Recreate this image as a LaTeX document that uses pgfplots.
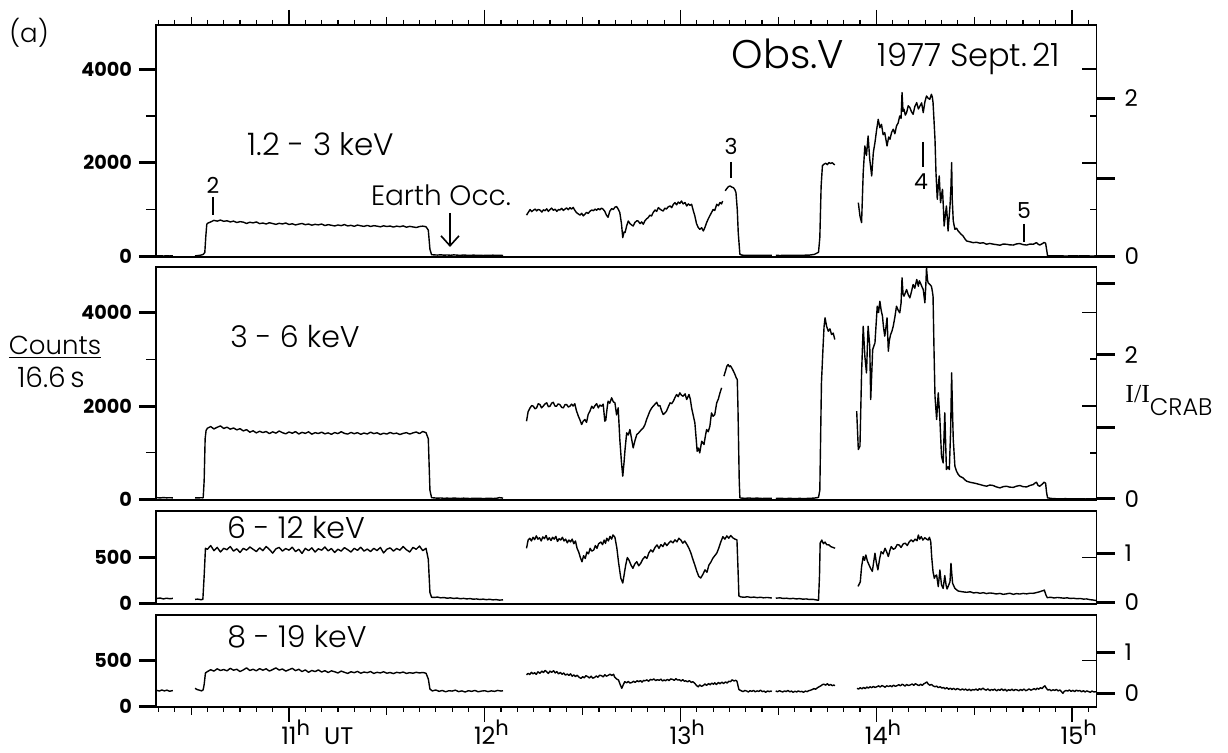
\documentclass[border=0pt]{standalone}
\usepackage{pgfplots}
\pgfplotsset{compat=1.18}
\usepackage{pgfplotstable}
\usepackage{fontspec}
\usetikzlibrary{arrows.meta}
\setmainfont{Poppins}
\IfFontExistsTF{Poppins Light}{\newfontfamily\lightfont{Poppins Light}}{\newfontfamily\lightfont{Poppins}}
\newfontfamily\serifI{Liberation Serif}
\newcommand{\hr}{\raisebox{4.5pt}{\fontsize{10.5}{11}\selectfont h}}

% time in minutes after 10:00 UT, counts per 16.6 s

\pgfplotstableread{
t n
19.5 8
20.5 12
21.5 6
22.5 10
23.5 7
24.4 9
nan nan
31.2 10
32.0 14
33.0 25
33.7 40
34.2 80
34.5 420
34.8 680
35 705
36 735
37 768
38 752
39 775
40 748
41 760
42 735
43 752
44 722
45 741
46 730
47 702
48 728
49 715
50 735
51 698
52 712
53 690
54 718
55 700
56 683
57 705
58 692
59 712
60 680
61 695
62 670
63 688
64 702
65 676
66 690
67 665
68 684
69 672
70 690
71 658
72 676
73 664
74 648
75 670
76 655
77 678
78 650
79 662
80 641
81 668
82 652
83 640
84 660
85 638
86 655
87 645
88 630
89 652
90 636
91 648
92 625
93 645
94 632
95 650
96 622
97 640
98 628
99 615
100 636
101 645
102 632
102.7 560
103.2 150
103.7 35
104.5 30
105.5 26
106.5 32
107.5 24
108.5 28
109.5 22
110.5 30
111.5 25
112.5 20
113.5 27
114.5 22
115.5 18
116.5 25
117.5 20
118.5 23
119.5 17
120.5 22
121.5 19
122.5 24
123.5 18
124.5 21
125.6 17
nan nan
132.8 880
133.3 934
133.9 1000
134.4 955
134.9 985
135.5 1010
135.9 970
136.4 1002
136.9 990
137.5 945
138.0 995
138.5 975
139.0 1015
139.5 960
140.0 998
140.5 1030
141.0 985
141.6 1005
142.1 960
142.6 1000
143.0 990
143.6 1025
144.1 980
144.6 1010
145.1 1035
145.6 995
146.1 1040
146.6 1010
147.1 1045
147.6 985
148.1 935
148.7 905
149.2 880
149.7 920
150.2 865
150.7 900
151.2 940
151.7 915
152.2 960
152.8 990
153.3 975
153.8 1010
154.3 985
154.8 1020
155.3 995
155.8 1030
156.3 1005
156.8 960
157.3 880
157.8 834
158.3 960
158.9 1020
159.4 1000
159.9 1050
160.4 1063
160.9 1010
161.4 934
161.9 700
162.3 400
162.7 520
163.0 507
163.5 650
164.0 755
164.5 700
165.0 670
165.5 648
166.0 720
166.6 760
167.0 755
167.6 700
168.1 735
168.6 684
169.1 760
169.6 800
170.1 827
170.6 880
171.1 860
171.6 934
172.2 990
172.7 960
173.2 1041
173.7 1010
174.2 985
174.7 969
175.2 1030
175.7 1010
176.2 1055
176.8 1076
177.3 1040
177.8 1110
178.3 1148
178.8 1100
179.3 1160
179.8 1130
180.3 1183
180.8 1120
181.4 1150
181.9 1076
182.4 1120
182.9 1090
183.4 1112
183.9 980
184.4 862
184.9 700
185.4 620
185.9 577
186.5 610
187.0 541
187.5 620
188.0 720
188.5 800
189.0 870
189.5 934
190.0 1000
190.5 980
191.1 1112
191.6 1080
192.1 1150
192.6 1120
192.9 1183
nan nan
193.7 1400
194.2 1450
194.7 1490
195.2 1504
195.7 1480
196.2 1469
196.7 1420
197.0 1362
197.4 1000
197.7 500
198.2 43
198.8 25
199.8 20
201.0 23
202.0 18
203.5 22
205.0 19
206.5 21
208.0 18
nan nan
209.2 20
210.5 17
212.0 21
213.5 18
215.0 22
216.5 19
218.0 23
219.5 25
221.0 40
222.3 85
222.7 400
223.1 1500
223.5 1940
224.0 1970
224.5 1990
225.0 1960
225.5 2005
226.0 1985
226.5 2000
227.0 1970
227.3 1955
nan nan
234.5 1148
235.0 862
235.5 720
236.0 1790
236.5 2360
237.0 2157
237.5 2573
238.0 2075
238.6 1718
239.1 2219
239.6 2432
240.1 2700
240.6 2930
241.1 2750
241.6 2823
242.1 2600
242.6 2645
243.0 2480
243.3 2360
243.8 2550
244.2 2502
244.7 2650
245.2 2717
245.7 2620
246.2 2788
246.7 2850
247.2 3001
247.6 2950
247.9 3501
248.2 3100
248.5 3144
248.9 3020
249.3 3073
249.8 3220
250.3 3180
250.8 3090
251.3 3037
251.8 3200
252.4 3287
252.9 3150
253.4 3216
253.9 3280
254.4 3073
254.9 3300
255.4 3429
255.9 3380
256.4 3358
256.9 3465
257.2 3400
257.4 3287
257.7 2900
258.0 2502
258.3 1790
258.7 1219
259.0 1500
259.3 1718
259.7 1148
260.0 1300
260.3 1433
260.6 1000
260.8 648
261.2 900
261.5 1076
261.8 800
262.0 541
262.3 800
262.6 1076
262.9 1500
263.1 2004
263.3 1200
263.6 755
264.1 577
264.6 600
265.1 541
265.9 480
266.6 434
267.2 370
267.7 327
268.7 310
269.7 291
270.7 300
271.8 280
272.8 290
273.8 257
274.8 275
275.8 260
276.8 250
277.9 236
278.9 262
279.9 257
280.9 245
282.0 240
283.0 265
284.0 272
285.0 250
286.1 240
287.1 262
288.1 257
288.6 275
289.1 291
289.6 260
290.1 240
290.9 270
291.4 295
291.9 280
292.2 150
292.5 12
294 8
296 10
298 6
300 9
302 7
304 10
306 6
307.4 8
}\pone

\pgfplotstableread{
t n
19.5 40
20.5 34
21.5 42
22.5 36
23.5 39
24.4 35
nan nan
31.2 36
32.0 34
33.0 38
33.7 36
34.0 400
34.3 1300
34.6 1480
35 1525
36 1560
37 1510
38 1545
39 1575
40 1520
41 1548
42 1505
43 1530
44 1490
45 1515
46 1468
47 1495
48 1440
49 1470
50 1425
51 1460
52 1432
53 1455
54 1410
55 1448
56 1420
57 1465
58 1430
59 1405
60 1445
61 1418
62 1452
63 1402
64 1436
65 1415
66 1448
67 1398
68 1430
69 1412
70 1440
71 1405
72 1425
73 1395
74 1432
75 1410
76 1450
77 1415
78 1400
79 1435
80 1408
81 1430
82 1395
83 1422
84 1402
85 1440
86 1410
87 1428
88 1392
89 1418
90 1400
91 1435
92 1408
93 1420
94 1390
95 1415
96 1430
97 1400
98 1425
99 1445
100 1410
101 1455
102 1430
102.7 1300
103.2 200
103.7 40
104.5 35
105.5 28
106.5 33
107.5 26
108.5 30
109.5 24
110.5 31
111.5 27
112.5 22
113.5 29
114.5 25
115.5 21
116.5 27
117.5 23
118.5 26
119.5 20
120.5 24
121.5 28
122.5 22
123.5 25
124.5 40
125.6 30
nan nan
132.8 1675
133.3 1880
133.9 1961
134.4 2010
134.9 1996
135.4 1940
135.9 1961
136.4 2050
136.9 2032
137.4 1960
137.9 1996
138.4 2040
139.0 2068
139.5 1985
140.0 1996
140.5 2060
141.0 2080
141.5 2000
142.0 1996
142.5 2045
143.0 2032
143.6 1970
144.1 1961
144.6 2030
145.1 2032
145.6 1980
146.1 1996
146.6 2040
147.1 2000
147.6 2050
148.1 1900
148.7 1782
149.2 1700
149.7 1604
150.2 1680
150.7 1711
151.2 1650
151.7 1818
152.3 1900
152.8 1996
153.3 1950
153.8 2010
154.3 2050
154.8 1961
155.3 2020
155.8 1996
156.3 2040
156.8 1675
157.1 1700
157.5 1950
157.8 2103
158.3 2060
158.9 2175
159.4 2090
159.9 2068
160.4 1811
160.9 1961
161.4 1283
161.9 800
162.3 498
162.7 800
163.0 1069
163.5 1426
164.0 1380
164.5 1497
165.0 1300
165.5 1105
166.0 1250
166.6 1390
167.1 1420
167.6 1461
168.1 1500
168.6 1533
169.1 1600
169.6 1711
170.1 1800
170.6 1889
171.1 1950
171.6 1996
172.2 2040
172.7 2080
173.2 2000
173.7 2010
174.2 1900
174.7 1818
175.2 1850
175.7 1889
176.3 1990
176.8 2068
177.3 2050
177.8 2103
178.3 2180
178.8 2246
179.3 2200
179.8 2282
180.3 2230
180.8 2210
181.4 2260
181.9 2139
182.3 2200
182.6 2246
183.0 2150
183.4 1961
183.9 1800
184.4 1640
184.8 1300
185.1 1033
185.5 1100
185.9 998
186.5 1247
187.2 1176
187.6 1350
188.0 1497
188.5 1450
189.0 1568
189.5 1853
190.0 1780
190.5 1818
191.1 2068
191.6 2150
192.1 2282
192.6 2389
nan nan
193.3 2638
193.8 2750
194.2 2850
194.6 2888
195.0 2840
195.3 2860
195.7 2817
196.2 2750
196.7 2674
197.1 2600
197.4 2567
197.6 2000
197.8 1200
198.0 400
198.2 36
198.8 30
199.8 26
201.0 32
202.0 25
203.5 30
205.0 22
206.5 28
208.0 24
nan nan
209.2 22
210.5 28
212.0 20
213.5 25
215.0 19
216.5 24
218.0 20
219.5 26
221.0 30
222.3 45
222.7 200
223.2 2500
223.7 3280
224.0 3700
224.3 3887
224.8 3700
225.3 3600
225.8 3650
226.3 3529
226.8 3560
227.3 3422
nan nan
234.0 1889
234.5 1069
235.0 1140
235.5 2710
236.0 3707
236.5 3065
237.0 2710
237.5 3707
238.0 3280
238.3 2139
238.9 3209
239.6 3351
240.0 3800
240.3 4135
240.7 4000
241.1 4242
241.5 4050
241.9 3922
242.2 3700
242.6 3494
243.0 3700
243.3 3887
243.7 3173
244.0 3400
244.4 3529
244.8 3600
245.2 3707
245.7 3900
246.2 4135
246.7 4050
247.2 3993
247.6 4200
247.9 4742
248.2 4400
248.5 4349
248.9 4420
249.3 4492
249.8 4380
250.3 4314
250.8 4450
251.3 4599
251.8 4520
252.4 4706
252.9 4563
253.2 4680
253.6 4620
254.0 4550
254.4 4492
254.9 4207
255.2 4600
255.4 4956
255.7 4700
255.9 4635
256.4 4600
256.9 4563
257.2 4450
257.4 4349
257.7 3200
258.0 2210
258.5 1711
259.0 2282
259.5 1711
260.0 926
260.5 784
261.0 1853
261.5 642
262.0 700
262.4 642
262.8 1500
263.1 2710
263.4 1800
263.6 1283
264.1 713
264.6 605
265.1 540
265.6 498
266.1 480
266.6 463
267.2 420
267.7 392
268.7 370
269.7 356
270.7 340
271.8 320
272.8 300
273.8 285
274.8 310
275.8 300
276.8 270
277.9 249
278.9 275
279.9 285
280.9 265
282.0 260
283.0 285
284.0 300
285.0 275
286.1 270
287.1 300
288.1 320
288.6 350
289.1 370
289.6 300
290.1 285
290.9 330
291.4 370
291.9 350
292.2 150
292.5 36
294 20
296 15
298 18
300 14
302 16
304 12
306 15
307.4 14
}\ptwo

\pgfplotstableread{
t n
19.5 55
20.5 60
21.5 50
22.5 58
23.5 52
24.4 56
nan nan
31.2 45
32.0 48
33.0 42
33.6 45
34.0 300
34.4 600
35 590
36 630
37 575
38 610
39 560
40 600
41 585
42 620
43 570
44 595
45 555
46 600
47 580
48 615
49 590
50 565
51 605
52 575
53 620
54 588
55 548
56 595
57 610
58 570
59 598
60 580
61 612
62 565
63 590
64 545
65 600
66 575
67 605
68 560
69 595
70 580
71 615
72 572
73 598
74 555
75 590
76 570
77 608
78 585
79 560
80 600
81 578
82 612
83 570
84 592
85 565
86 600
87 575
88 610
89 550
90 590
91 605
92 570
93 598
94 580
95 620
96 585
97 560
98 610
99 590
100 625
101 575
102 600
102.7 480
103.2 120
103.7 68
104.5 66
105.5 70
106.5 62
107.5 65
108.5 58
109.5 62
110.5 55
111.5 60
112.5 52
113.5 56
114.5 50
115.5 54
116.5 47
117.5 50
118.5 44
119.5 48
120.5 42
121.5 46
122.5 40
123.5 43
124.5 37
125.6 40
nan nan
132.8 600
133.3 690
133.8 710
134.3 680
134.8 720
135.3 695
135.8 735
136.3 700
136.8 715
137.3 680
137.8 725
138.3 705
138.8 740
139.3 690
139.8 715
140.3 685
140.8 720
141.3 700
141.8 730
142.3 675
142.8 705
143.3 690
143.8 720
144.3 680
144.8 700
145.3 660
145.8 690
146.3 670
146.8 700
147.3 650
147.8 680
148.3 600
148.8 560
149.3 500
149.8 454
150.3 520
150.8 490
151.3 560
151.8 540
152.3 600
152.8 570
153.4 581
153.9 630
154.4 600
154.9 650
155.6 668
156.1 640
156.6 690
157.0 654
157.4 710
157.9 680
158.4 730
158.9 700
159.3 746
159.9 720
160.5 601
161.0 450
161.7 277
162.3 223
162.8 330
163.2 418
163.7 500
164.2 473
164.8 420
165.4 383
166.0 430
166.6 455
167.2 410
167.8 437
168.4 480
169.1 510
169.7 490
170.3 550
170.9 583
171.5 560
172.2 610
172.8 637
173.4 600
174.0 640
174.6 619
175.2 660
175.8 630
176.4 656
177.0 680
177.7 660
178.3 692
178.9 670
179.5 710
180.1 690
180.7 656
181.3 680
182.0 640
182.6 600
183.2 547
183.8 480
184.4 418
185.0 350
185.6 295
186.2 277
186.9 320
187.5 366
188.1 340
188.7 418
189.3 450
189.9 492
190.5 520
191.1 547
191.7 600
192.4 674
193.0 727
193.6 700
194.2 735
194.8 710
195.4 740
196.0 715
196.7 700
197.3 692
197.6 400
197.9 82
198.5 72
199.5 68
200.5 74
201.5 66
202.5 70
203.5 64
204.5 68
205.5 62
206.5 66
208.0 60
nan nan
209.2 58
210.5 62
211.5 55
212.5 58
213.5 52
214.5 56
215.5 50
216.5 54
217.5 47
218.5 50
219.5 44
220.5 46
221.5 40
222.3 35
222.6 300
222.8 656
223.3 690
223.8 650
224.3 668
224.8 640
225.5 637
226.0 620
226.7 610
227.4 601
nan nan
234.4 186
235.1 234
235.5 400
236.0 511
236.4 470
236.8 528
237.3 460
237.8 418
238.3 380
238.8 350
239.2 450
239.6 547
240.0 450
240.5 366
241.0 480
241.5 564
242.1 540
242.7 601
243.2 560
243.7 511
244.2 580
244.6 619
245.2 590
245.8 601
246.4 640
247.0 637
247.6 610
248.3 650
248.9 656
249.5 630
250.1 670
250.7 692
251.3 672
251.9 700
252.5 683
252.9 745
253.3 700
253.8 727
254.3 690
254.9 716
255.4 700
255.9 690
256.3 720
256.7 672
257.0 500
257.4 346
257.8 274
258.1 300
258.5 310
259.0 184
259.5 364
260.0 202
260.5 165
261.0 303
261.4 200
261.7 158
262.2 200
262.6 238
262.9 437
263.2 300
263.4 220
264.1 165
264.6 150
265.1 136
266.0 130
267.0 125
267.7 122
268.8 128
269.8 115
270.8 120
271.8 111
272.8 118
273.8 108
274.8 115
275.8 111
276.8 104
277.9 110
278.9 100
279.9 105
280.9 112
282.0 100
283.0 108
284.0 103
285.0 110
286.1 105
287.1 112
288.1 111
289.0 118
289.9 126
290.7 136
291.2 140
291.5 147
292.0 93
292.4 64
293.5 68
294.5 60
295.5 66
296.5 62
297.5 58
298.5 62
299.5 55
300.5 58
301.5 52
302.5 55
303.5 48
304.5 50
305.5 42
306.5 38
307.4 32
}\pthree

\pgfplotstableread{
t n
19.5 175
20.3 168
21.0 180
21.8 170
22.6 178
23.4 166
24.4 174
nan nan
31.2 198
31.8 185
32.5 178
33.2 170
33.7 182
34.0 240
34.4 365
35 380
36 400
37 385
38 410
39 392
40 402
41 388
42 415
43 395
44 405
45 380
46 398
47 420
48 392
49 405
50 388
51 412
52 395
53 410
54 385
55 402
56 420
57 396
58 408
59 385
60 400
61 415
62 390
63 405
64 380
65 398
66 372
67 392
68 380
69 398
70 375
71 390
72 370
73 388
74 378
75 365
76 385
77 372
78 360
79 378
80 368
81 382
82 362
83 375
84 368
85 380
86 360
87 372
88 365
89 378
90 362
91 370
92 358
93 372
94 365
95 375
96 360
97 368
98 362
99 372
100 365
101 370
102 362
102.7 300
103.2 190
103.7 175
104 170
105 180
106 165
107 175
108 160
109 172
110 168
111 178
112 162
113 170
114 158
115 172
116 165
117 175
118 160
119 168
120 172
121 162
122 170
123 165
124 175
125 168
125.6 172
nan nan
132.8 345
133.3 360
133.8 348
134.3 372
134.8 355
135.3 368
135.8 350
136.3 378
136.9 361
137.5 385
138.0 370
138.5 392
139.0 378
139.5 360
140.0 385
140.5 372
141.1 389
141.6 365
142.1 380
142.6 355
143.2 370
143.7 350
144.2 365
144.7 342
145.3 353
145.8 338
146.3 355
146.8 330
147.3 344
147.8 325
148.3 340
148.9 318
149.5 306
150.0 325
150.5 312
151.0 335
151.6 324
152.1 310
152.6 330
153.1 308
153.6 315
154.2 332
154.7 318
155.2 340
155.8 335
156.3 322
156.8 345
157.3 330
157.9 340
158.4 352
158.9 338
159.5 350
159.8 320
160.4 300
161.0 288
161.5 240
162.0 198
162.5 240
162.9 270
163.5 258
164.0 272
164.5 255
165.1 261
165.6 275
166.1 262
166.7 280
167.2 270
167.7 282
168.2 265
168.7 285
169.1 279
169.7 290
170.2 275
170.8 295
171.3 288
171.8 300
172.4 282
172.9 292
173.5 285
174.0 298
174.5 278
175.0 290
175.4 280
176.0 295
176.5 282
177.0 300
177.6 295
178.1 285
178.6 302
179.1 288
179.7 290
180.2 278
180.7 292
181.2 275
181.6 280
182.2 268
182.7 282
183.3 262
183.8 270
184.4 250
184.9 230
185.4 214
185.9 235
186.4 220
186.9 227
187.5 245
188.0 230
188.6 250
189.1 236
189.6 255
190.1 242
190.5 258
191.0 240
191.6 262
192.1 248
192.7 265
193.2 250
193.8 268
194.3 255
194.8 275
195.3 270
195.8 290
196.4 278
196.9 285
197.3 275
197.6 230
197.9 185
198.2 179
198.7 170
199.2 162
199.7 175
200.3 168
200.8 158
201.3 172
201.9 165
202.4 175
202.9 160
203.5 170
204.0 164
204.5 178
205.1 162
205.6 168
206.1 155
206.7 170
207.2 162
207.7 168
208.0 164
nan nan
209.2 170
209.7 160
210.3 172
210.8 165
211.3 158
211.9 170
212.4 162
212.9 175
213.5 160
214.0 168
214.5 155
215.1 166
215.6 158
216.1 170
216.7 160
217.2 165
217.7 155
218.3 168
218.8 162
219.3 172
219.9 178
220.4 185
220.9 195
221.4 188
222.0 205
222.5 215
223.0 225
223.5 238
224.0 243
224.5 232
225.0 248
225.5 230
226.0 240
226.5 227
227.0 235
227.3 225
nan nan
234.1 198
234.6 190
235.1 205
235.6 192
236.1 208
236.6 195
237.1 212
237.6 200
238.1 215
238.6 205
239.1 218
239.6 208
240.2 215
240.7 225
241.2 212
241.7 228
242.2 221
242.7 210
243.2 225
243.8 218
244.3 227
244.8 215
245.3 232
245.8 220
246.4 227
246.9 238
247.4 225
247.9 242
248.3 236
248.8 222
249.3 240
249.9 228
250.5 236
251.0 245
251.5 230
252.0 248
252.6 236
253.1 228
253.6 242
254.1 230
254.5 245
255.0 255
255.5 267
255.9 245
256.4 232
256.9 240
257.4 225
258.0 215
258.5 222
259.0 206
259.6 215
260.1 200
260.6 208
261.1 192
261.6 205
262.2 188
262.7 200
263.2 185
263.7 198
264.3 182
264.8 195
265.3 189
265.8 178
266.4 192
266.9 180
267.4 190
267.9 175
268.5 188
269.0 172
269.5 185
270.0 179
270.6 190
271.1 175
271.6 195
272.1 182
272.7 200
273.2 185
273.7 178
274.2 192
274.8 172
275.3 186
275.8 178
276.3 190
276.9 170
277.4 185
277.9 176
278.4 192
279.0 174
279.5 188
280.0 168
280.5 182
281.1 175
281.6 190
282.1 172
282.6 185
283.2 180
283.7 170
284.2 186
284.7 175
285.3 190
285.8 172
286.3 179
286.8 192
287.4 178
287.9 185
288.4 195
288.9 182
289.3 200
289.8 188
290.3 205
290.8 195
291.3 215
291.7 225
292.1 200
292.6 179
293.1 185
293.6 172
294.2 182
294.7 175
295.2 186
295.7 170
296.3 180
296.8 160
297.2 143
297.6 165
298.2 175
298.7 168
299.2 180
299.7 165
300.3 176
300.8 162
301.3 178
301.9 168
302.4 175
302.9 160
303.5 172
304.0 158
304.5 170
305.1 162
305.6 155
306.1 168
306.7 158
307.3 161
}\pfour

\pgfplotsset{
  panel/.style={
    scale only axis, width=470.25pt, anchor=south west,
    xmin=19.24, xmax=307.5,
    axis line style={line width=0.9pt},
    xtick=\empty,
    ytick pos=left, tick align=outside,
    major tick length=8.5pt, minor tick length=5pt,
    major tick style={black, line width=1.5pt},
    minor tick style={black, line width=0.6pt},
    /pgf/number format/assume math mode=true,
    yticklabel style={font=\bfseries\fontsize{9.6}{11}\selectfont},
    unbounded coords=jump,
  },
  rside/.style={
    scale only axis, width=470.25pt, anchor=south west,
    xmin=19.24, xmax=307.5,
    hide x axis, axis y line*=right,
    axis line style={line width=0.9pt},
    /pgf/number format/assume math mode=true,
  },
  inner/.style={
    tick align=inside, yticklabels={},
    major tick length=7.5pt, minor tick length=3.5pt,
    tick style={black, line width=0.8pt},
  },
  crab/.style={
    tick align=outside,
    major tick length=9pt,
    major tick style={black, line width=1.5pt},
    yticklabel style={font=\fontsize{11.5}{12}\selectfont, xshift=1.5pt},
  },
  timeaxis/.style={
    scale only axis, width=470.25pt, anchor=south west,
    xmin=19.24, xmax=307.5, ymin=0, ymax=1,
    hide y axis, tick align=outside,
    axis line style={line width=0.9pt},
    xtick={60,120,180,240,300},
    minor xtick={20,25,...,305},
    extra x ticks={30,90,150,210,270}, extra x tick labels={},
    extra x tick style={major tick length=4pt},
    major tick length=7.5pt, minor tick length=2.5pt,
    tick style={black, line width=0.6pt},
  },
  p1/.style={at={(78pt,248pt)}, height=116pt, ymin=-15, ymax=4947},
  p2/.style={at={(78pt,126.5pt)}, height=116.5pt, ymin=-10, ymax=4974},
  p3/.style={at={(78pt,74.5pt)}, height=46.5pt, ymin=-5, ymax=1006},
  p4/.style={at={(78pt,23pt)}, height=46pt, ymin=-5, ymax=995},
  trace/.style={black, line width=0.7pt, line join=round},
}

\begin{document}
\begin{tikzpicture}
\useasboundingbox (0pt,0pt) rectangle (614pt,376.5pt);

% 1.2-3 keV
\begin{axis}[panel, p1, ytick={0,2000,4000}, yticklabels={0,2000,4000}, minor ytick={1000,3000}]
\addplot[trace] table {\pone};
\end{axis}
\begin{axis}[rside, p1, inner, ytick={2000,4000}, minor ytick={1000,3000}]
\end{axis}
\begin{axis}[rside, p1, crab, ytick={0,1670,3380}, yticklabels={0,,2}]
\end{axis}
\begin{axis}[timeaxis, at={(78pt,248pt)}, height=116pt, axis x line*=top, xticklabels={}]
\end{axis}

% 3-6 keV
\begin{axis}[panel, p2, ytick={0,2000,4000}, yticklabels={0,2000,4000}, minor ytick={1000,3000}]
\addplot[trace] table {\ptwo};
\end{axis}
\begin{axis}[rside, p2, inner, ytick={2000,4000}, minor ytick={1000,3000}]
\end{axis}
\begin{axis}[rside, p2, crab, ytick={20,1540,3100,4620}, yticklabels={0,,2,}]
\end{axis}

% 6-12 keV
\begin{axis}[panel, p3, ytick={0,500}, yticklabels={0,500}]
\addplot[trace] table {\pthree};
\end{axis}
\begin{axis}[rside, p3, inner, ytick={500}]
\end{axis}
\begin{axis}[rside, p3, crab, ytick={16,549}, yticklabels={0,1}]
\end{axis}

% 8-19 keV
\begin{axis}[panel, p4, ytick={0,500}, yticklabels={0,500}]
\addplot[trace] table {\pfour};
\end{axis}
\begin{axis}[rside, p4, inner, ytick={500}]
\end{axis}
\begin{axis}[rside, p4, crab, ytick={147,592}, yticklabels={0,1}]
\end{axis}
\begin{axis}[timeaxis, at={(78pt,23pt)}, height=46pt, axis x line*=bottom,
  xticklabels={{11\rlap{\hr\hspace{7pt}UT}},
    {12\rlap{\hr}}, {13\rlap{\hr}}, {14\rlap{\hr}}, {15\rlap{\hr}}},
  xticklabel style={font=\fontsize{12}{12}\selectfont, inner sep=0pt, yshift=1pt}]
\end{axis}

% annotations, placed in image pixels (origin bottom left)
\begin{scope}[x=0.5pt, y=0.5pt]
\node[font=\lightfont\fontsize{13}{13}\selectfont] at (29,720) {(a)};
\node[font=\lightfont\fontsize{20}{20}\selectfont] at (788,699) {Obs.V};
\node[font=\lightfont\fontsize{16}{16}\selectfont] at (969,694.5) {1977 Sept.\,21};
\node[font=\lightfont\fontsize{15.5}{16}\selectfont] at (321,609) {1.2 - 3 keV};
\node[font=\lightfont\fontsize{15}{15}\selectfont] at (295,416) {3 - 6 keV};
\node[font=\lightfont\fontsize{15}{15}\selectfont] at (296,225) {6 - 12 keV};
\node[font=\lightfont\fontsize{15}{15}\selectfont] at (297,116) {8 - 19 keV};
\node[font=\lightfont\fontsize{14}{14}\selectfont] at (441,558) {Earth Occ.};
\draw[line width=0.8pt, -{Straight Barb[length=5pt, width=9pt]}] (450,540) -- (450,506);
\begin{scope}[font=\fontsize{11}{12}\selectfont]
\node at (213,568) {2};
\draw[line width=1pt] (213,556) -- (213,538);
\node at (731,607) {3};
\draw[line width=1pt] (731,591) -- (731,575);
\draw[line width=1pt] (923,611) -- (923,586);
\node at (921,571) {4};
\node at (1024,542) {5};
\draw[line width=1pt] (1024,529) -- (1024,511);
\end{scope}
\node[font=\lightfont\fontsize{13}{13}\selectfont] at (55,406) {\underline{Counts}};
\node[font=\lightfont\fontsize{14}{14}\selectfont] at (51,376) {16.6\,s};
\node[anchor=base west, inner sep=0pt] at (1125,350)
  {{\serifI\fontsize{13}{13}\selectfont I/I}\raisebox{-6.5pt}{\lightfont\fontsize{12}{12}\selectfont CRAB}};
\end{scope}
\end{tikzpicture}
\end{document}
